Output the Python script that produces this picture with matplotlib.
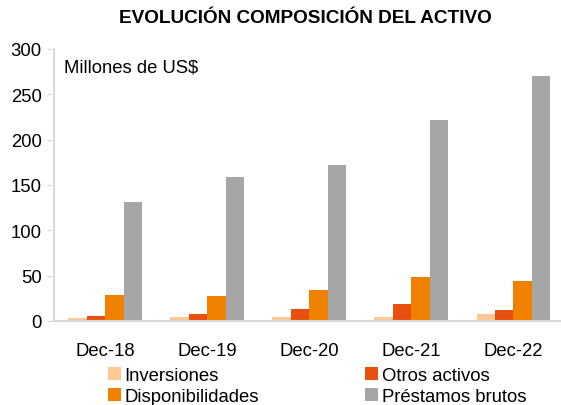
import numpy as np
import matplotlib.pyplot as plt

plt.rcParams['font.family'] = ['Liberation Sans', 'DejaVu Sans']

years = ["Dec-18", "Dec-19", "Dec-20", "Dec-21", "Dec-22"]
inversiones = [3.3, 4.0, 4.5, 4.5, 8.0]
otros_activos = [5.5, 7.7, 13.6, 18.7, 12.0]
disponibilidades = [29.0, 28.0, 34.5, 48.0, 44.0]
prestamos = [131.0, 159.0, 172.0, 221.5, 270.0]

series = [
    ("Inversiones", inversiones, "#FFC993"),
    ("Otros activos", otros_activos, "#E8500F"),
    ("Disponibilidades", disponibilidades, "#F08000"),
    ("Préstamos brutos", prestamos, "#A6A6A6"),
]

fig = plt.figure(figsize=(5.61, 4.06), dpi=100)
ax = fig.add_axes([0.0963, 0.207, 0.91, 0.67])

x = np.arange(len(years))
w = 0.181
bars = []
for i, (name, vals, col) in enumerate(series):
    bars.append(ax.bar(x + (i - 1.5) * w, vals, w, color=col, label=name))

ax.set_xlim(-0.5, len(years) - 0.5)
ax.set_ylim(0, 300)
ax.set_yticks(range(0, 301, 50))
ax.set_xticks(x)
ax.set_xticklabels(years)
ax.tick_params(axis='x', length=0, labelsize=13.3, pad=15)
ax.tick_params(axis='y', length=5, color='#D9D9D9', labelsize=13.3, pad=4)
for s in ['top', 'right']:
    ax.spines[s].set_visible(False)
for s in ['left', 'bottom']:
    ax.spines[s].set_color('#D9D9D9')
    ax.spines[s].set_linewidth(1.5)

ax.text(0.02, 0.965, "Millones de US$", transform=ax.transAxes,
        fontsize=13.3, va='top', ha='left')

fig.suptitle("EVOLUCIÓN COMPOSICIÓN DEL ACTIVO", x=0.545, y=0.975,
             fontsize=13.7, fontweight='bold')

# row-wise order like the original legend
order = [0, 2, 1, 3]
leg = fig.legend([bars[i] for i in order], [series[i][0] for i in order],
                 loc='lower center', bbox_to_anchor=(0.565, -0.042), ncol=2,
                 frameon=False, fontsize=13.3, handlelength=0.7,
                 handleheight=0.7, handletextpad=0.2, columnspacing=5.75,
                 labelspacing=0.22)

fig.savefig("out.png", dpi=100)
